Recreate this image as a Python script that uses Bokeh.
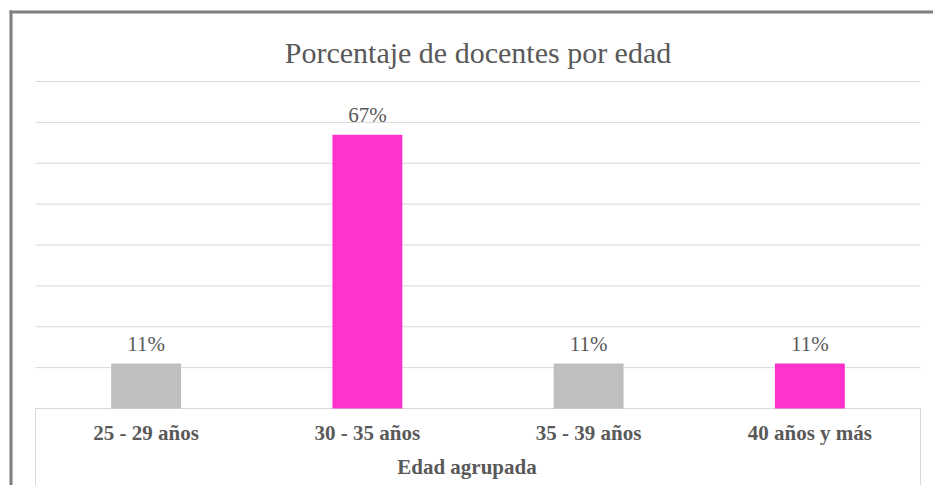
from bokeh.plotting import figure
from bokeh.models import (ColumnDataSource, Range1d, FixedTicker, LinearAxis,
                          LabelSet, Label, BoxAnnotation)
from bokeh.embed import file_html
from bokeh.resources import INLINE

# ---- data ----
categories = ["25 - 29 años", "30 - 35 años", "35 - 39 años", "40 años y más"]
values = [0.11, 0.67, 0.11, 0.11]
value_labels = ["11%", "67%", "11%", "11%"]
bar_colors = ["#BFBFBF", "#FF33CC", "#BFBFBF", "#FF33CC"]
grid_ticks = [0.0, 0.1, 0.2, 0.3, 0.4, 0.5, 0.6, 0.7, 0.8]
title_text = "Porcentaje de docentes por edad"
x_title = "Edad agrupada"

SERIF = "Liberation Serif, Tinos, DejaVu Serif, serif"
TXT = "#595959"
GRID = "#D9D9D9"
BORDER = "#7F7F7F"

# ---- layout (pixels) ----
W, H = 933, 485
PLOT_L, PLOT_R, PLOT_T, PLOT_B = 35, 920, 81, 408
n = len(categories)
px_x = (PLOT_R - PLOT_L) / n
px_y = (PLOT_B - PLOT_T) / grid_ticks[-1]
x_start = -PLOT_L / px_x
x_end = n + (W - PLOT_R) / px_x
y_start = -(H - PLOT_B) / px_y
y_end = grid_ticks[-1] + PLOT_T / px_y

def sx(px):
    return x_start + px / px_x

def sy(py):
    return y_end - py / px_y

centers = [i + 0.5 for i in range(n)]
source = ColumnDataSource(dict(x=centers, val=values, lab=value_labels, col=bar_colors))

p = figure(x_range=Range1d(x_start, x_end), y_range=Range1d(y_start, y_end),
           width=W, height=H, output_backend="svg", toolbar_location=None,
           x_axis_location=None, y_axis_location=None,
           min_border=0, min_border_left=0, min_border_right=0,
           min_border_top=0, min_border_bottom=0)
p.outline_line_color = None
p.background_fill_color = "white"
p.border_fill_color = "white"
p.xgrid.visible = False
p.ygrid.visible = False

# gridlines (value axis), spanning the plot area only
p.segment(x0=[0] * len(grid_ticks), x1=[n] * len(grid_ticks), y0=grid_ticks, y1=grid_ticks,
          line_color=GRID, line_width=1)
# category-axis edge lines below the baseline
p.segment(x0=[0, n], x1=[0, n], y0=[y_start, y_start], y1=[0, 0], line_color=GRID, line_width=1)

p.vbar(x="x", top="val", width=0.316, source=source, fill_color="col", line_color=None)

ax = LinearAxis(ticker=FixedTicker(ticks=centers),
                major_label_overrides={c: cat for c, cat in zip(centers, categories)},
                fixed_location=0)
ax.axis_line_color = None
ax.major_tick_line_color = None
ax.minor_tick_line_color = None
ax.major_tick_out = 0
ax.major_tick_in = 0
ax.major_label_standoff = 12
ax.major_label_text_font = SERIF
ax.major_label_text_font_size = "21px"
ax.major_label_text_font_style = "bold"
ax.major_label_text_color = TXT
ax.axis_label = x_title
ax.axis_label_text_font = SERIF
ax.axis_label_text_font_size = "21px"
ax.axis_label_text_font_style = "bold"
ax.axis_label_text_color = TXT
ax.axis_label_standoff = 7
p.add_layout(ax, "below")

labels = LabelSet(x="x", y="val", text="lab", source=source, text_align="center",
                  text_baseline="alphabetic", y_offset=13, text_font=SERIF,
                  text_font_size="21px", text_color=TXT)
p.add_layout(labels)

title = Label(x=n / 2, y=sy(52), text=title_text,
              text_align="center", text_baseline="alphabetic", text_font=SERIF,
              text_font_size="30px", text_color=TXT)
p.add_layout(title)

# chart border (left and top)
p.add_layout(BoxAnnotation(left=sx(9), right=sx(12), top=sy(10), bottom=y_start,
                           fill_color=BORDER, fill_alpha=1.0, line_color=None))
p.add_layout(BoxAnnotation(left=sx(9), right=x_end, top=sy(10), bottom=sy(13),
                           fill_color=BORDER, fill_alpha=1.0, line_color=None))

open("out.html", "w").write(file_html(p, INLINE))
